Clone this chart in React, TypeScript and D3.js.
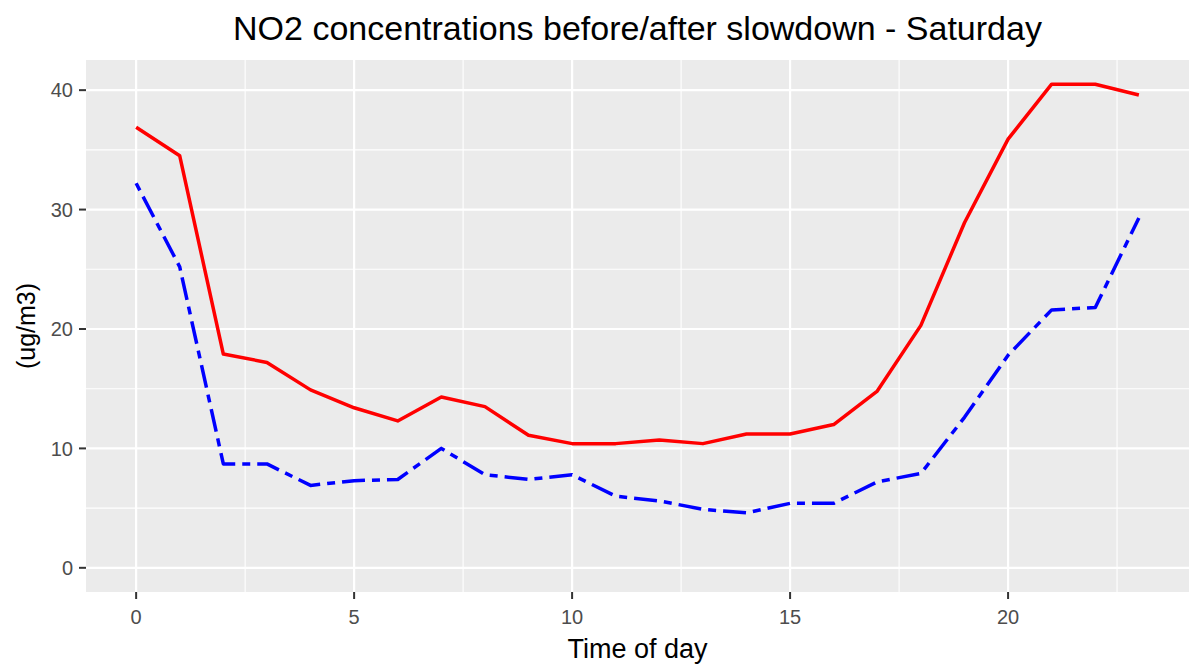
import React from 'react';
import * as d3 from 'd3';

const hours = d3.range(0, 24);
const before = [36.9, 34.5, 17.9, 17.2, 14.9, 13.4, 12.3, 14.3, 13.5, 11.1, 10.4, 10.4,
  10.7, 10.4, 11.2, 11.2, 12.0, 14.8, 20.3, 28.9, 35.9, 40.5, 40.5, 39.6];
const after = [32.2, 25.2, 8.7, 8.7, 6.9, 7.3, 7.4, 10.0, 7.8, 7.4, 7.8, 6.0,
  5.6, 4.9, 4.6, 5.4, 5.4, 7.2, 7.9, 12.6, 17.8, 21.6, 21.8, 29.3];
const xTicks = [0, 5, 10, 15, 20];
const yTicks = [0, 10, 20, 30, 40];

const W = 1189;
const H = 666;
const panel = { left: 86, right: 1189, top: 60, bottom: 592 };

export default function App() {
  const allY = [...before, ...after];
  const yMin = 0;
  const yMax = d3.max(allY) as number;
  const yPad = (yMax - yMin) * 0.05;
  const xPad = 23 * 0.05;

  const x = d3.scaleLinear().domain([-xPad, 23 + xPad]).range([panel.left, panel.right]);
  const y = d3.scaleLinear().domain([yMin - yPad, yMax + yPad]).range([panel.bottom, panel.top]);

  const line = d3.line<number>().x((_, i) => x(hours[i])).y((d) => y(d));

  const xMinor = xTicks.map((t) => t + 2.5).filter((t) => t < 23 + xPad);
  const yMinor = yTicks.map((t) => t + 5).filter((t) => t < yMax + yPad);

  return (
    <svg width={W} height={H} style={{ position: 'absolute', left: 0, top: 0 }}
      fontFamily="'Liberation Sans', Arial, sans-serif">
      <rect width={W} height={H} fill="#fff" />
      <rect x={panel.left} y={panel.top} width={panel.right - panel.left}
        height={panel.bottom - panel.top} fill="#EBEBEB" />
      {yMinor.map((t) => (
        <line key={'ym' + t} x1={panel.left} x2={panel.right} y1={y(t)} y2={y(t)}
          stroke="#fff" strokeWidth={1.1} />
      ))}
      {xMinor.map((t) => (
        <line key={'xm' + t} y1={panel.top} y2={panel.bottom} x1={x(t)} x2={x(t)}
          stroke="#fff" strokeWidth={1.1} />
      ))}
      {yTicks.map((t) => (
        <line key={'yg' + t} x1={panel.left} x2={panel.right} y1={y(t)} y2={y(t)}
          stroke="#fff" strokeWidth={2.2} />
      ))}
      {xTicks.map((t) => (
        <line key={'xg' + t} y1={panel.top} y2={panel.bottom} x1={x(t)} x2={x(t)}
          stroke="#fff" strokeWidth={2.2} />
      ))}

      <path d={line(before) ?? ''} fill="none" stroke="#FF0000" strokeWidth={3.5}
        strokeLinejoin="round" />
      <path d={line(after) ?? ''} fill="none" stroke="#0000FF" strokeWidth={3.5}
        strokeDasharray="8,7,23,7" strokeLinejoin="round" />

      {yTicks.map((t) => (
        <g key={'yt' + t}>
          <line x1={panel.left - 7} x2={panel.left} y1={y(t)} y2={y(t)} stroke="#333" strokeWidth={2} />
          <text x={panel.left - 13} y={y(t)} dy="0.36em" textAnchor="end" fontSize={20}
            fill="#4D4D4D">{t}</text>
        </g>
      ))}
      {xTicks.map((t) => (
        <g key={'xt' + t}>
          <line x1={x(t)} x2={x(t)} y1={panel.bottom} y2={panel.bottom + 7} stroke="#333" strokeWidth={2} />
          <text x={x(t)} y={624} textAnchor="middle" fontSize={20}
            fill="#4D4D4D">{t}</text>
        </g>
      ))}

      <text x={(panel.left + panel.right) / 2} y={658} textAnchor="middle" fontSize={27}
        fill="#000">Time of day</text>
      <text transform={`translate(35, ${(panel.top + panel.bottom) / 2}) rotate(-90)`}
        textAnchor="middle" fontSize={25} fill="#000">(ug/m3)</text>
      <text x={(panel.left + panel.right) / 2} y={40} textAnchor="middle" fontSize={34}
        fill="#000">NO2 concentrations before/after slowdown - Saturday</text>
    </svg>
  );
}
